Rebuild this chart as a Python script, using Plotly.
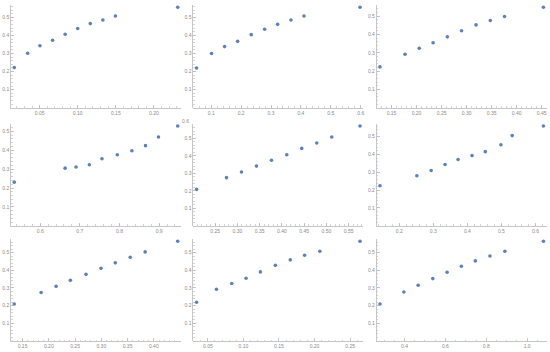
import plotly.graph_objects as go

# ---- data ----
x1 = [0.0167, 0.0343, 0.0504, 0.0670, 0.0835, 0.1000, 0.1165, 0.1330, 0.1495, 0.2313]
y1 = [0.222, 0.301, 0.343, 0.373, 0.406, 0.438, 0.465, 0.485, 0.507, 0.555]
x2 = [0.0509, 0.1011, 0.1446, 0.1882, 0.2339, 0.2786, 0.3221, 0.3667, 0.4103, 0.5978]
y2 = [0.220, 0.300, 0.338, 0.367, 0.404, 0.434, 0.461, 0.485, 0.507, 0.555]
x3 = [0.1270, 0.1770, 0.2054, 0.2331, 0.2615, 0.2899, 0.3189, 0.3473, 0.3757, 0.4534]
y3 = [0.223, 0.292, 0.325, 0.355, 0.387, 0.420, 0.452, 0.476, 0.498, 0.548]
x4 = [0.5346, 0.6629, 0.6905, 0.7240, 0.7559, 0.7945, 0.8313, 0.8657, 0.8984, 0.9470]
y4 = [0.231, 0.305, 0.311, 0.323, 0.355, 0.376, 0.397, 0.424, 0.470, 0.528]
x5 = [0.2081, 0.2754, 0.3091, 0.3428, 0.3765, 0.4109, 0.4446, 0.4783, 0.5120, 0.5756]
y5 = [0.208, 0.275, 0.307, 0.341, 0.374, 0.406, 0.442, 0.473, 0.507, 0.570]
x6 = [0.1434, 0.2517, 0.2937, 0.3346, 0.3727, 0.4137, 0.4527, 0.4985, 0.5317, 0.6234]
y6 = [0.225, 0.281, 0.310, 0.344, 0.372, 0.394, 0.416, 0.455, 0.506, 0.560]
x7 = [0.1342, 0.1854, 0.2139, 0.2411, 0.2709, 0.2994, 0.3266, 0.3551, 0.3835, 0.4456]
y7 = [0.209, 0.274, 0.309, 0.343, 0.377, 0.411, 0.442, 0.474, 0.504, 0.564]
x8 = [0.0341, 0.0621, 0.0836, 0.1037, 0.1238, 0.1449, 0.1659, 0.1860, 0.2075, 0.2640]
y8 = [0.219, 0.293, 0.325, 0.355, 0.391, 0.428, 0.459, 0.485, 0.508, 0.564]
x9 = [0.2797, 0.3967, 0.4667, 0.5382, 0.6081, 0.6780, 0.7463, 0.8179, 0.8910, 1.0797]
y9 = [0.209, 0.277, 0.315, 0.353, 0.389, 0.423, 0.453, 0.481, 0.508, 0.564]

# tick labels
xt1 = ["0.05", "0.10", "0.15", "0.20"]
xt2 = ["0.1", "0.2", "0.3", "0.4", "0.5", "0.6"]
xt3 = ["0.15", "0.20", "0.25", "0.30", "0.35", "0.40", "0.45"]
xt4 = ["0.6", "0.7", "0.8", "0.9"]
xt5 = ["0.25", "0.30", "0.35", "0.40", "0.45", "0.50", "0.55"]
xt6 = ["0.2", "0.3", "0.4", "0.5", "0.6"]
xt7 = ["0.15", "0.20", "0.25", "0.30", "0.35", "0.40"]
xt8 = ["0.05", "0.10", "0.15", "0.20", "0.25"]
xt9 = ["0.4", "0.6", "0.8", "1.0"]
yt = ["0.1", "0.2", "0.3", "0.4", "0.5"]
yt_extra5 = "0.6"

# ---- style / layout constants ----
W, H = 550, 352
BLUE = "rgb(94,129,181)"
AXC = "#b8b8b8"
LBL = "#8a8a8a"
FONT = dict(family="Liberation Sans, Arial, sans-serif", size=5, color=LBL)
COL_LEFT = [11, 193.3, 376.7]
COL_W = 170
ROWS = [(5.3, 107.8), (124.0, 225.8), (239.3, 341.0)]  # (top px, x-axis px)
MINOR_X = [0.01, 0.02, 0.01, 0.02, 0.01, 0.02, 0.01, 0.01, 0.05]

panels = [(x1, y1, xt1), (x2, y2, xt2), (x3, y3, xt3),
          (x4, y4, xt4), (x5, y5, xt5), (x6, y6, xt6),
          (x7, y7, xt7), (x8, y8, xt8), (x9, y9, xt9)]

fig = go.Figure()
layout = {}
ydoms = []
ytops = []
for i, (xs, ys, xticks) in enumerate(panels):
    suf = "" if i == 0 else str(i + 1)
    r, c = divmod(i, 3)
    top, base = ROWS[r]
    xd = [COL_LEFT[c] / W, (COL_LEFT[c] + COL_W) / W]
    yd = [1 - base / H, 1 - top / H]
    span = max(xs) - min(xs)
    xr = [min(xs) - 0.02 * span, max(xs) + 0.02 * span]
    ytop = max(ys) * 1.02
    ydoms.append(yd)
    ytops.append(ytop)

    fig.add_trace(go.Scatter(
        x=xs, y=ys, mode="markers",
        marker=dict(size=3.6, color=BLUE),
        xaxis="x" + suf, yaxis="y" + suf,
        cliponaxis=False, showlegend=False, hoverinfo="skip"))

    layout["xaxis" + suf] = dict(
        domain=xd, anchor="y" + suf, range=xr,
        tickmode="array", tickvals=[float(t) for t in xticks], ticktext=xticks,
        ticks="inside", ticklen=3, tickwidth=0.8, tickcolor=AXC,
        showline=True, linecolor=AXC, linewidth=0.8,
        showgrid=False, zeroline=False, tickfont=FONT,
        minor=dict(ticks="inside", ticklen=1.5, tickwidth=0.6, tickcolor=AXC,
                   tickmode="linear", tick0=0, dtick=MINOR_X[i], showgrid=False))
    layout["yaxis" + suf] = dict(
        domain=yd, anchor="x" + suf, range=[0, ytop],
        tickmode="array", tickvals=[float(t) for t in yt], ticktext=yt,
        ticks="inside", ticklen=3, tickwidth=0.8, tickcolor=AXC,
        showline=True, linecolor=AXC, linewidth=0.8,
        showgrid=False, zeroline=False, tickfont=FONT,
        minor=dict(ticks="inside", ticklen=1.5, tickwidth=0.6, tickcolor=AXC,
                   tickmode="linear", tick0=0, dtick=0.02, showgrid=False))

# extra "0.6" label drawn just above panel 5's range (as in the reference)
yd5 = ydoms[4]
ann_y = yd5[0] + (float(yt_extra5) / ytops[4]) * (yd5[1] - yd5[0])
annotations = [dict(text=yt_extra5, xref="paper", yref="paper",
                    x=COL_LEFT[1] / W, y=ann_y, xanchor="right", yanchor="middle",
                    xshift=-2, showarrow=False, font=FONT)]

fig.update_layout(
    width=W, height=H,
    margin=dict(l=0, r=0, t=0, b=0),
    paper_bgcolor="white", plot_bgcolor="white",
    annotations=annotations,
    hovermode=False,
    **layout)

fig.write_html("out.html",
               config={"displayModeBar": False, "staticPlot": True},
               post_script="document.body.style.margin='0px';"
                           "document.body.style.overflow='hidden';")
